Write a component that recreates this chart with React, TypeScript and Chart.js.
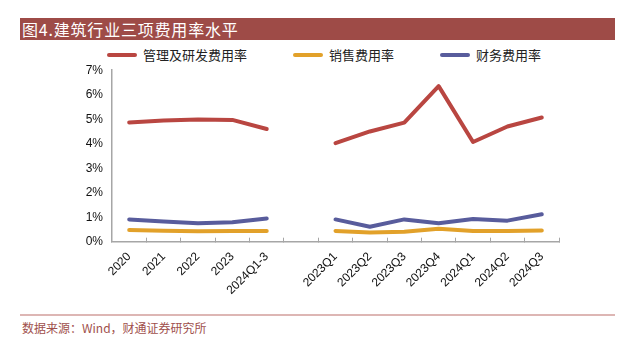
import React, { useEffect, useRef } from "react";
import { Chart, registerables } from "chart.js";

Chart.register(...registerables);

const categories = ["2020", "2021", "2022", "2023", "2024Q1-3", "", "2023Q1", "2023Q2", "2023Q3", "2023Q4", "2024Q1", "2024Q2", "2024Q3"];
const mgmtRD = [4.87, 4.95, 4.99, 4.97, 4.6, null, 4.02, 4.5, 4.86, 6.35, 4.07, 4.7, 5.07];
const sales = [0.48, 0.45, 0.43, 0.44, 0.44, null, 0.44, 0.38, 0.41, 0.53, 0.44, 0.44, 0.46];
const finance = [0.91, 0.82, 0.75, 0.79, 0.95, null, 0.91, 0.61, 0.91, 0.75, 0.93, 0.86, 1.12];
const seriesNames = ["管理及研发费用率", "销售费用率", "财务费用率"];
const yTicks = [0, 1, 2, 3, 4, 5, 6, 7];

const RED = "#B94641";
const ORANGE = "#E2A12A";
const BLUE = "#585C9C";
const seriesColors = [RED, ORANGE, BLUE];

export default function App() {
  const ref = useRef<HTMLCanvasElement | null>(null);
  useEffect(() => {
    if (!ref.current) return;
    const mk = (label: string, data: (number | null)[], color: string) => ({
      label,
      data,
      borderColor: color,
      backgroundColor: color,
      borderWidth: 4,
      pointRadius: 0,
      pointHoverRadius: 0,
      tension: 0,
      spanGaps: false,
      borderJoinStyle: "round" as const,
      borderCapStyle: "round" as const,
    });
    const chart = new Chart(ref.current, {
      type: "line",
      data: {
        labels: categories,
        datasets: [
          mk(seriesNames[0], mgmtRD, seriesColors[0]),
          mk(seriesNames[1], sales, seriesColors[1]),
          mk(seriesNames[2], finance, seriesColors[2]),
        ],
      },
      options: {
        animation: false,
        responsive: false,
        maintainAspectRatio: false,
        layout: { padding: { left: 0, right: 79, top: 70.2, bottom: 0 } },
        plugins: {
          tooltip: { enabled: false },
          legend: { display: false },
        },
        scales: {
          x: {
            type: "category",
            offset: true,
            afterFit: (s: any) => {
              s.height = 58.3;
            },
            grid: { display: true, drawOnChartArea: false, drawTicks: true, tickLength: -4, color: "#a6a6a6", offset: true },
            border: { display: true, color: "#a6a6a6", width: 1.5 },
            ticks: {
              autoSkip: false,
              maxRotation: 45,
              minRotation: 45,
              padding: 12,
              color: "#111",
              font: { family: "'Liberation Sans', Arial, sans-serif", size: 12 },
            },
          },
          y: {
            min: 0,
            max: 7,
            afterFit: (s: any) => {
              s.width = 112;
            },
            afterBuildTicks: (s: any) => {
              s.ticks = yTicks.map((v) => ({ value: v }));
            },
            grid: { display: false, drawTicks: false },
            border: { display: true, color: "#a6a6a6", width: 1.5 },
            ticks: {
              autoSkip: false,
              padding: 9,
              color: "#111",
              font: { family: "'Liberation Sans', Arial, sans-serif", size: 12 },
              callback: (v: any) => v + "%",
            },
          },
        },
      },
    });
    return () => chart.destroy();
  }, []);

  return (
    <div style={{ position: "absolute", left: 0, top: 0, width: 638, height: 338, background: "#fff", overflow: "hidden" }}>
      <div
        style={{
          position: "absolute",
          left: 20,
          top: 18,
          width: 595,
          height: 22,
          background: "#9E4B47",
          color: "#fff",
          fontFamily: "'Noto Sans CJK SC', serif",
          fontSize: 16,
          letterSpacing: 0.8,
          lineHeight: "22px",
          paddingLeft: 2,
          boxSizing: "border-box",
          whiteSpace: "nowrap",
        }}
      >
        图4.建筑行业三项费用率水平
      </div>
      <div
        style={{
          position: "absolute",
          left: 107,
          top: 46,
          height: 18,
          display: "flex",
          alignItems: "center",
          fontFamily: "'Noto Sans CJK SC', sans-serif",
          fontSize: 13,
          color: "#222",
          whiteSpace: "nowrap",
        }}
      >
        {seriesNames.map((n, i) => (
          <div key={n} style={{ display: "flex", alignItems: "center", marginRight: 46 }}>
            <div style={{ width: 30, height: 4, borderRadius: 2, background: seriesColors[i], marginRight: 6 }} />
            <span style={{ lineHeight: "18px" }}>{n}</span>
          </div>
        ))}
      </div>
      <canvas ref={ref} width={638} height={300} style={{ position: "absolute", left: 0, top: 0, width: 638, height: 300 }} />
      <div style={{ position: "absolute", left: 20, top: 314, width: 595, height: 2, background: "#DDB6B4" }} />
      <div
        style={{
          position: "absolute",
          left: 22,
          top: 320,
          fontFamily: "'Noto Sans CJK SC', serif",
          fontSize: 12,
          lineHeight: "16px",
          color: "#A0504C",
          whiteSpace: "nowrap",
        }}
      >
        数据来源：Wind，财通证券研究所
      </div>
    </div>
  );
}
